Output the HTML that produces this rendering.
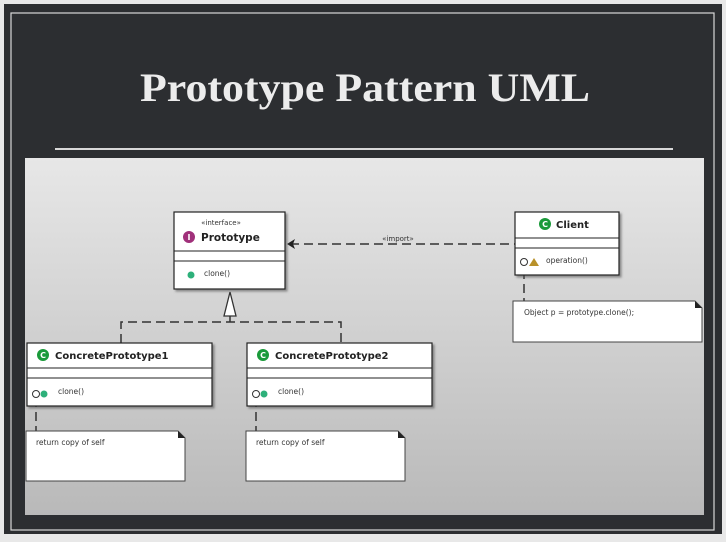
<!DOCTYPE html>
<html><head><style>
body{margin:0;width:726px;height:538px;overflow:hidden;background:#e8e8e8;font-family:"DejaVu Sans","Liberation Sans",sans-serif}
</style></head><body>
<svg width="726" height="538" xmlns="http://www.w3.org/2000/svg" font-family="DejaVu Sans, Liberation Sans, sans-serif">
<defs>
<linearGradient id="g" x1="0" y1="0" x2="0" y2="1"><stop offset="0" stop-color="#e7e7e7"/><stop offset="1" stop-color="#b9b9b9"/></linearGradient>
<filter id="s"><feDropShadow dx="2" dy="2" stdDeviation="1" flood-color="#555" flood-opacity="0.6"/></filter>
</defs>
<rect x="4" y="4" width="718" height="530" fill="#2c2e31"/>
<rect x="11" y="13" width="703" height="517" fill="none" stroke="#d8d8d8" stroke-width="1.2"/>
<text x="140" y="101" textLength="450" lengthAdjust="spacingAndGlyphs" font-family="Liberation Serif, serif" font-weight="bold" font-size="40" fill="#ececec">Prototype Pattern UML</text>
<line x1="55" y1="149" x2="673" y2="149" stroke="#d8d8d8" stroke-width="2"/>
<rect x="25" y="158" width="679" height="357" fill="url(#g)"/>

<g stroke="#333" stroke-width="1.5" fill="none" stroke-dasharray="9,5">
<line x1="290" y1="244" x2="515" y2="244"/>
<polyline points="121,343 121,322 341,322 341,343"/>
<line x1="230" y1="316" x2="230" y2="322" stroke-dasharray="none"/>
<line x1="524" y1="270" x2="524" y2="301"/>
<line x1="36" y1="398" x2="36" y2="431"/>
<line x1="256" y1="398" x2="256" y2="431"/>
</g>
<polygon points="287,244 295,239 293,244 295,249" fill="#222"/>
<polygon points="230,292 224,316 236,316" fill="#fff" stroke="#333" stroke-width="1.3"/>
<text x="398" y="241" text-anchor="middle" font-size="7" fill="#333">«import»</text>

<g filter="url(#s)"><rect x="174" y="212" width="111" height="77" fill="#fff" stroke="#222" stroke-width="1.2"/></g>
<line x1="174" y1="251" x2="285" y2="251" stroke="#222"/><line x1="174" y1="261" x2="285" y2="261" stroke="#222"/>
<text x="221" y="225" text-anchor="middle" font-size="7" fill="#333">«interface»</text>
<circle cx="189" cy="237" r="6" fill="#a0307a"/><text x="189" y="240" text-anchor="middle" font-size="8" font-weight="bold" fill="#fff">I</text>
<text x="201" y="241" font-size="10.5" font-weight="bold" fill="#222">Prototype</text>
<circle cx="191" cy="275" r="3.5" fill="#2db07a"/><text x="204" y="276" font-size="7.5" fill="#333">clone()</text>

<g filter="url(#s)"><rect x="515" y="212" width="104" height="63" fill="#fff" stroke="#222" stroke-width="1.2"/></g>
<line x1="515" y1="238" x2="619" y2="238" stroke="#222"/><line x1="515" y1="248" x2="619" y2="248" stroke="#222"/>
<circle cx="545" cy="224" r="6" fill="#1a9a3a"/><text x="545" y="227" text-anchor="middle" font-size="8" font-weight="bold" fill="#fff">C</text>
<text x="556" y="228" font-size="10" font-weight="bold" fill="#222">Client</text>
<circle cx="524" cy="262" r="3.5" fill="#fff" stroke="#333"/>
<polygon points="529,266 534,258 539,266" fill="#b8912a"/>
<text x="546" y="263" font-size="7.5" fill="#333">operation()</text>
<path d="M513,301 H695 L702,308 V342 H513 Z" fill="#fff" stroke="#444"/><path d="M695,301 L702,308 H695 Z" fill="#222"/>
<text x="524" y="315" font-size="7.5" fill="#333">Object p = prototype.clone();</text>

<g filter="url(#s)"><rect x="27" y="343" width="185" height="63" fill="#fff" stroke="#222" stroke-width="1.2"/></g>
<line x1="27" y1="368" x2="212" y2="368" stroke="#222"/><line x1="27" y1="378" x2="212" y2="378" stroke="#222"/>
<circle cx="43" cy="355" r="6" fill="#1a9a3a"/><text x="43" y="358" text-anchor="middle" font-size="8" font-weight="bold" fill="#fff">C</text>
<text x="55" y="359" font-size="10" font-weight="bold" fill="#222">ConcretePrototype1</text>
<circle cx="36" cy="394" r="3.5" fill="#fff" stroke="#333"/><circle cx="44" cy="394" r="3.5" fill="#2db07a"/>
<text x="58" y="394" font-size="7.5" fill="#333">clone()</text>
<path d="M26,431 H178 L185,438 V481 H26 Z" fill="#fff" stroke="#444"/><path d="M178,431 L185,438 H178 Z" fill="#222"/>
<text x="36" y="445" font-size="7.5" fill="#333">return copy of self</text>

<g filter="url(#s)"><rect x="247" y="343" width="185" height="63" fill="#fff" stroke="#222" stroke-width="1.2"/></g>
<line x1="247" y1="368" x2="432" y2="368" stroke="#222"/><line x1="247" y1="378" x2="432" y2="378" stroke="#222"/>
<circle cx="263" cy="355" r="6" fill="#1a9a3a"/><text x="263" y="358" text-anchor="middle" font-size="8" font-weight="bold" fill="#fff">C</text>
<text x="275" y="359" font-size="10" font-weight="bold" fill="#222">ConcretePrototype2</text>
<circle cx="256" cy="394" r="3.5" fill="#fff" stroke="#333"/><circle cx="264" cy="394" r="3.5" fill="#2db07a"/>
<text x="278" y="394" font-size="7.5" fill="#333">clone()</text>
<path d="M246,431 H398 L405,438 V481 H246 Z" fill="#fff" stroke="#444"/><path d="M398,431 L405,438 H398 Z" fill="#222"/>
<text x="256" y="445" font-size="7.5" fill="#333">return copy of self</text>
</svg>
</body></html>
